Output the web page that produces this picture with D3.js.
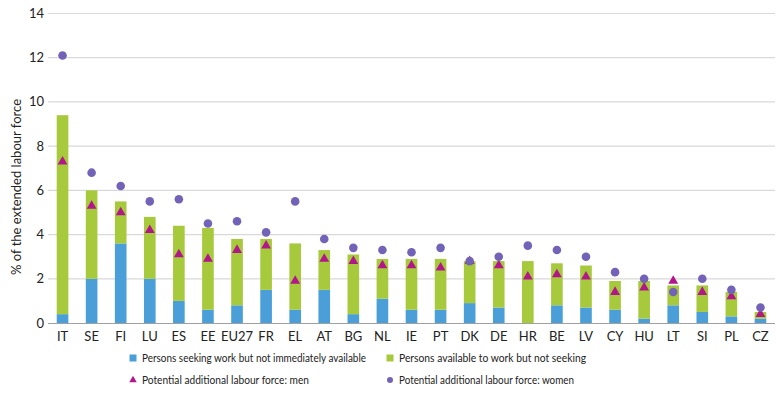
<!DOCTYPE html>
<html><head><meta charset="utf-8">
<script src="https://cdn.jsdelivr.net/npm/d3@7"></script>
<style>body{margin:0;background:#fff}svg{display:block;font-family:Lato,"Open Sans",sans-serif}</style>
</head><body><svg id="c" width="780" height="396"></svg>
<script>
const categories = ["IT","SE","FI","LU","ES","EE","EU27","FR","EL","AT","BG","NL","IE","PT","DK","DE","HR","BE","LV","CY","HU","LT","SI","PL","CZ"];
const seekingNotAvailable = [0.4,2.0,3.6,2.0,1.0,0.6,0.8,1.5,0.6,1.5,0.4,1.1,0.6,0.6,0.9,0.7,0.0,0.8,0.7,0.6,0.2,0.8,0.5,0.3,0.2];
const totalPotential = [9.4,6.0,5.5,4.8,4.4,4.3,3.8,3.8,3.6,3.3,3.1,2.9,2.9,2.9,2.8,2.8,2.8,2.7,2.6,1.9,1.9,1.7,1.7,1.4,0.5];
const availableNotSeeking = totalPotential.map((t,i)=>+(t-seekingNotAvailable[i]).toFixed(1));
const men = [7.3,5.3,5.0,4.2,3.1,2.9,3.3,3.5,1.9,2.9,2.8,2.6,2.6,2.5,2.8,2.6,2.1,2.2,2.1,1.4,1.6,1.9,1.4,1.2,0.4];
const women = [12.1,6.8,6.2,5.5,5.6,4.5,4.6,4.1,5.5,3.8,3.4,3.3,3.2,3.4,2.8,3.0,3.5,3.3,3.0,2.3,2.0,1.4,2.0,1.5,0.7];
const yTicks = [0,2,4,6,8,10,12,14];
const legendLabels = ["Persons seeking work but not immediately available","Persons available to work but not seeking","Potential additional labour force: men","Potential additional labour force: women"];

const colors = {blue:"#4b9fd9", green:"#a6ca3b", men:"#b3168b", women:"#7363b8", grid:"#d9d9d9", text:"#222"};
const svg = d3.select("#c");
const m = {left:48, right:775, top:13.5, bottom:323};
const x = d3.scaleBand().domain(categories).range([m.left,m.right]).paddingInner(0.6).paddingOuter(0.3);
const y = d3.scaleLinear().domain([0,14]).range([m.bottom,m.top]);

// grid
svg.append("g").selectAll("line").data(yTicks.filter(d=>d>0)).join("line")
  .attr("x1",m.left).attr("x2",m.right).attr("y1",d=>y(d)).attr("y2",d=>y(d))
  .attr("stroke",colors.grid).attr("stroke-width",1.2);
// y tick labels
svg.append("g").selectAll("text").data(yTicks).join("text")
  .attr("x",44).attr("y",d=>y(d)+4.5).attr("text-anchor","end")
  .attr("font-size",13).attr("fill",colors.text).text(d=>d);
// y label
svg.append("text").attr("transform",`translate(21,187) rotate(-90)`)
  .attr("text-anchor","middle").attr("font-size",13).attr("fill",colors.text)
  .attr("textLength",176).attr("lengthAdjust","spacingAndGlyphs")
  .text("% of the extended labour force");

// stacked bars
const rows = categories.map((c,i)=>({cat:c, blue:seekingNotAvailable[i], green:availableNotSeeking[i]}));
const stack = d3.stack().keys(["blue","green"])(rows);
svg.append("g").selectAll("g").data(stack).join("g")
  .attr("fill",d=>d.key==="blue"?colors.blue:colors.green)
  .selectAll("rect").data(d=>d).join("rect")
  .attr("x",d=>x(d.data.cat)).attr("width",x.bandwidth())
  .attr("y",d=>y(d[1])).attr("height",d=>Math.max(0,y(d[0])-y(d[1])));

// axis line
svg.append("line").attr("x1",m.left).attr("x2",m.right).attr("y1",y(0)+0.5).attr("y2",y(0)+0.5)
  .attr("stroke","#a0a0a0").attr("stroke-width",1.2);
// x labels
svg.append("g").selectAll("text").data(categories).join("text")
  .attr("x",d=>x(d)+x.bandwidth()/2).attr("y",341).attr("text-anchor","middle")
  .attr("font-size",13).attr("fill",colors.text).text(d=>d);

const tri = d3.symbol().type(d3.symbolTriangle).size(42);
// men triangles
svg.append("g").selectAll("path").data(men).join("path")
  .attr("d",tri).attr("fill",colors.men)
  .attr("transform",(d,i)=>`translate(${x(categories[i])+x.bandwidth()/2},${y(d)})`);
// women circles
svg.append("g").selectAll("circle").data(women).join("circle")
  .attr("cx",(d,i)=>x(categories[i])+x.bandwidth()/2).attr("cy",d=>y(d)).attr("r",4.3)
  .attr("fill",colors.women);

// legend
const lg = svg.append("g").attr("font-size",11.5).attr("fill",colors.text);
const pos = [[133,358],[390,358],[133,380],[390,380]];
const lens = [224,187,167,175];
lg.append("rect").attr("x",pos[0][0]-3.5).attr("y",pos[0][1]-3.5).attr("width",7).attr("height",7).attr("fill",colors.blue);
lg.append("rect").attr("x",pos[1][0]-3.5).attr("y",pos[1][1]-3.5).attr("width",7).attr("height",7).attr("fill",colors.green);
lg.append("path").attr("d",d3.symbol().type(d3.symbolTriangle).size(24)).attr("fill",colors.men).attr("transform",`translate(${pos[2][0]},${pos[2][1]})`);
lg.append("circle").attr("cx",pos[3][0]).attr("cy",pos[3][1]).attr("r",3).attr("fill",colors.women);
legendLabels.forEach((t,i)=>{
  lg.append("text").attr("x",pos[i][0]+9).attr("y",pos[i][1]+4.3).attr("fill",colors.text)
    .attr("textLength",lens[i]).attr("lengthAdjust","spacingAndGlyphs").text(t);
});
</script></body></html>
